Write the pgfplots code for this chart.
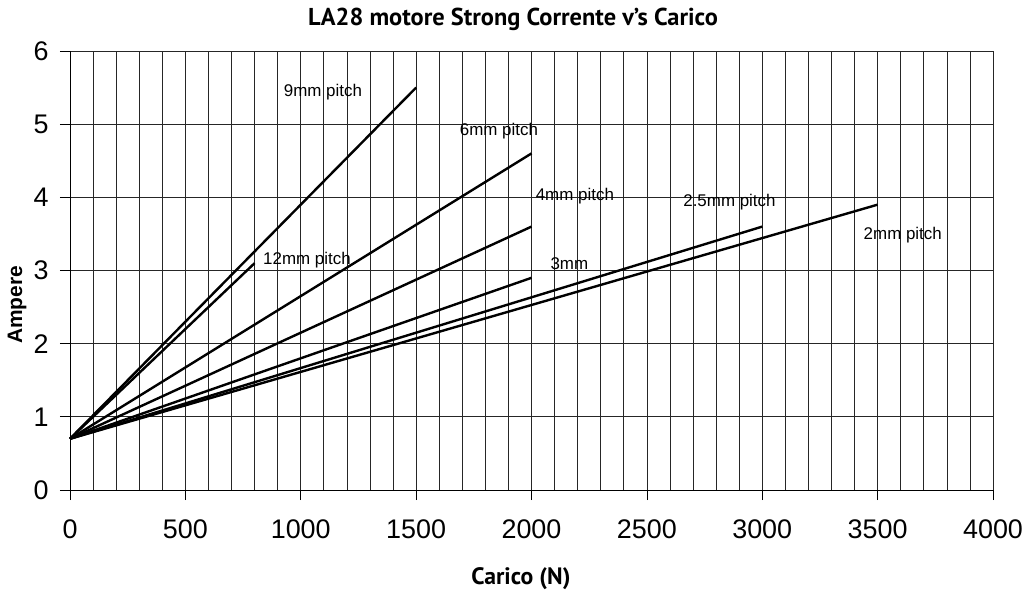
\documentclass[border=0pt]{standalone}
\usepackage{pgfplots}
\pgfplotsset{compat=1.18}
\usepackage{fontspec}
\setmainfont{Liberation Sans}
\newfontfamily\titlefont{PT Sans}
\begin{document}
\begin{tikzpicture}
\path[use as bounding box] (-70bp,-113bp) rectangle (960bp,490bp);
\begin{axis}[
  at={(0,0)}, anchor=south west,
  scale only axis, width=923bp, height=439bp,
  xmin=0, xmax=4000, ymin=0, ymax=6,
  xtick={0,500,...,4000}, ytick={0,1,...,6},
  minor xtick={0,100,...,4000},
  grid=both,
  major grid style={black!85, line width=0.7bp},
  minor grid style={black!85, line width=0.7bp},
  axis line style={black, line width=0.8bp},
  tick style={black, line width=0.7bp},
  tick align=outside,
  major tick length=10bp, minor tick length=0bp,
  axis lines*=left,
  xticklabel style={font=\fontsize{27}{29}\selectfont, yshift=-16bp},
  yticklabel style={font=\fontsize{27}{29}\selectfont, xshift=-8bp},
  /pgf/number format/assume math mode=true,
  /pgf/number format/set thousands separator={},
  title={\titlefont\bfseries LA28 motore Strong Corrente v’s Carico},
  title style={at={(rel axis cs:0.48,1.059)}, anchor=center, font=\fontsize{24.5}{26}\selectfont},
  xlabel={\titlefont\bfseries Carico (N)},
  xlabel style={at={(rel axis cs:0.4886,-0.2027)}, anchor=center, font=\fontsize{23.8}{26}\selectfont},
  ylabel={\bfseries Ampere},
  ylabel style={at={(rel axis cs:-0.0574,0.4214)}, anchor=center, font=\fontsize{21}{23}\selectfont},
  clip=false,
]
\addplot[black, solid, no marks, line width=2.4bp] coordinates {(0,0.7) (1500,5.5)};
\addplot[black, solid, no marks, line width=2.4bp] coordinates {(0,0.7) (800,3.1)};
\addplot[black, solid, no marks, line width=2.4bp] coordinates {(0,0.7) (2000,4.6)};
\addplot[black, solid, no marks, line width=2.4bp] coordinates {(0,0.7) (2000,3.6)};
\addplot[black, solid, no marks, line width=2.4bp] coordinates {(0,0.7) (2000,2.9)};
\addplot[black, solid, no marks, line width=2.4bp] coordinates {(0,0.7) (3000,3.6)};
\addplot[black, solid, no marks, line width=2.4bp] coordinates {(0,0.7) (3500,3.9)};
\begin{scope}[every node/.style={font=\fontsize{17}{19}\selectfont, inner sep=0pt}]
\node at (axis cs:1096,5.44) {9mm pitch};
\node at (axis cs:1859,4.90) {6mm pitch};
\node at (axis cs:2188,4.01) {4mm pitch};
\node at (axis cs:2164,3.10) {3mm};
\node at (axis cs:2858,3.93) {2.5mm pitch};
\node at (axis cs:3609,3.48) {2mm pitch};
\node at (axis cs:1027,3.14) {12mm pitch};
\end{scope}
\end{axis}
\end{tikzpicture}
\end{document}
